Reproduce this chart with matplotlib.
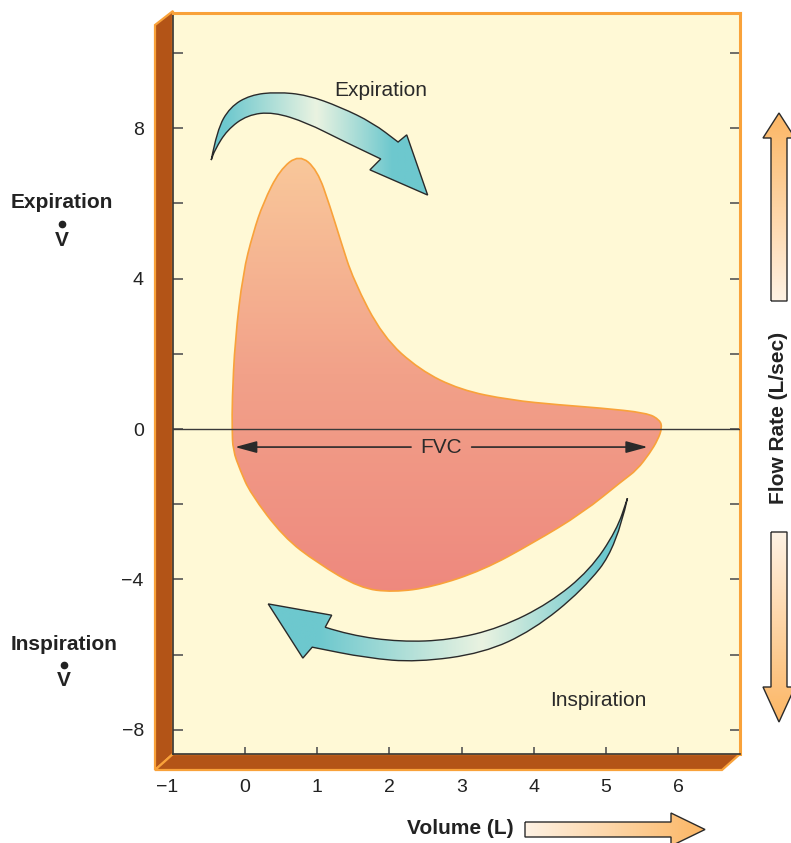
import numpy as np
import matplotlib
matplotlib.use("Agg")
import matplotlib.pyplot as plt
from matplotlib.path import Path
from matplotlib.patches import PathPatch, Polygon
from matplotlib.colors import LinearSegmentedColormap

plt.rcParams['font.family'] = ['Liberation Sans', 'DejaVu Sans']

# flow-volume loop (volume in L, flow in L/sec)
exp_volume = [-0.18, -0.18, -0.14, -0.03, 0.11, 0.25, 0.48, 0.75, 1.00, 1.18, 1.32,
              1.50, 1.91, 2.42, 2.98, 3.67, 4.36, 4.92, 5.57, 5.75, 5.78]
exp_flow = [0.0, 0.77, 2.37, 4.15, 5.21, 6.01, 6.89, 7.30, 6.89, 5.90, 5.03,
            3.96, 2.45, 1.57, 1.04, 0.77, 0.64, 0.56, 0.43, 0.24, 0.03]
insp_volume = [5.72, 5.61, 5.43, 5.24, 4.68, 3.99, 3.30, 2.60, 2.05, 1.59, 1.00,
               0.53, 0.07, -0.07, -0.17]
insp_flow = [-0.29, -0.64, -1.09, -1.36, -2.23, -3.03, -3.75, -4.20, -4.34, -4.23, -3.56,
             -2.87, -1.70, -1.09, -0.56]

fvc_start, fvc_end, fvc_level = -0.14, 5.58, -0.48

x_ticks = [0, 1, 2, 3, 4, 5, 6]
y_ticks = [-8, -6, -4, -2, 0, 2, 4, 6, 8, 10]
y_labels = ['−8', '', '−4', '', '0', '', '4', '', '8', '']

# curved direction arrows (data units): tail, outer edge, head, inner edge
exp_tail = (-0.47, 7.15)
exp_outer = [(-0.39, 7.95), (-0.21, 8.56), (0.07, 8.88), (0.44, 8.96), (0.86, 8.88),
             (1.32, 8.56), (1.77, 8.14), (2.12, 7.63)]
exp_head = [(2.24, 7.82), (2.53, 6.22), (1.73, 6.89), (1.88, 7.18)]
exp_inner = [(1.32, 7.69), (0.86, 8.14), (0.39, 8.43), (0.03, 8.35), (-0.25, 7.95), (-0.42, 7.42)]

insp_tail = (5.30, -1.84)
insp_outer = [(5.15, -3.14), (4.68, -4.28), (3.99, -5.35), (3.30, -5.96), (2.38, -6.20),
              (1.69, -6.09), (0.93, -5.80)]
insp_head = [(0.80, -6.09), (0.32, -4.65), (1.20, -4.95), (1.11, -5.27)]
insp_inner = [(1.45, -5.48), (2.15, -5.66), (2.84, -5.61), (3.53, -5.29), (4.22, -4.63),
              (4.78, -3.75), (5.15, -2.69)]

BROWN = '#B35417'
ORANGE = '#F9A23A'
PLANE = '#FFF9D6'
DARK = '#2a2a2a'
TEAL = '#6DC8CE'
PALE = '#EAF3E1'
loop_cmap = LinearSegmentedColormap.from_list('loop', ['#EE887E', '#F2A189', '#F9C99B'])
orange_cmap = LinearSegmentedColormap.from_list('org', ['#FEF2E4', '#FCB664'])
exp_cmap = LinearSegmentedColormap.from_list(
    'exp', [(0, TEAL), (0.07, TEAL), (0.48, PALE), (0.82, TEAL), (1, TEAL)])
insp_cmap = LinearSegmentedColormap.from_list(
    'insp', [(0, TEAL), (0.14, TEAL), (0.59, PALE), (0.92, TEAL), (1, TEAL)])


def smooth_open(pts, first_code):
    pts = np.asarray(pts, float)
    verts = [pts[0]]
    codes = [first_code]
    for i in range(1, len(pts) - 1):
        verts += [pts[i], (pts[i] + pts[i + 1]) / 2]
        codes += [Path.CURVE3, Path.CURVE3]
    verts.append(pts[-1])
    codes.append(Path.LINETO)
    return verts, codes


def smooth_closed(pts):
    pts = np.asarray(pts, float)
    n = len(pts)
    verts = [(pts[-1] + pts[0]) / 2]
    codes = [Path.MOVETO]
    for i in range(n):
        verts += [pts[i], (pts[i] + pts[(i + 1) % n]) / 2]
        codes += [Path.CURVE3, Path.CURVE3]
    verts.append(verts[0])
    codes.append(Path.CLOSEPOLY)
    return Path(verts, codes)


def curved_arrow(tail, outer, head, inner):
    v1, c1 = smooth_open([tail] + outer, Path.MOVETO)
    v2 = list(head[:3])
    c2 = [Path.LINETO] * 3
    v3, c3 = smooth_open([head[3]] + inner + [tail], Path.LINETO)
    verts = v1 + v2 + v3 + [tail]
    codes = c1 + c2 + c3 + [Path.CLOSEPOLY]
    return Path(verts, codes)


def gradient_patch(axis, path, cmap, extent, horizontal, ec, lw, z):
    patch = PathPatch(path, fc='none', ec=ec, lw=lw, zorder=z + 0.1, joinstyle='miter')
    axis.add_patch(patch)
    g = np.linspace(0, 1, 256)
    img = g[None, :] if horizontal else g[:, None]
    im = axis.imshow(img, cmap=cmap, extent=extent, origin='lower', aspect='auto',
                     interpolation='bilinear', zorder=z)
    im.set_clip_path(patch)


W, H = 791, 843
fig = plt.figure(figsize=(W / 100, H / 100), dpi=100)

# pixel overlay for the box walls, side arrows and outside labels
px = fig.add_axes([0, 0, 1, 1], zorder=0)
px.axis('off')

px.add_patch(Polygon([(173, 11), (155, 25), (155, 770), (173, 754)], closed=True,
                     fc=BROWN, ec=ORANGE, lw=1.6, joinstyle='miter'))
px.add_patch(Polygon([(173, 754), (155, 770), (722, 770), (740, 754)], closed=True,
                     fc=BROWN, ec=ORANGE, lw=1.6, joinstyle='miter'))

up_arrow = Path([(771, 301), (771, 138), (763, 138), (779, 113), (795, 138), (787, 138),
                 (787, 301), (771, 301)], closed=True)
down_arrow = Path([(771, 532), (771, 687), (763, 687), (779, 722), (795, 687), (787, 687),
                   (787, 532), (771, 532)], closed=True)
vol_arrow = Path([(525, 822), (671, 822), (671, 813), (705, 829.5), (671, 846), (671, 837),
                  (525, 837), (525, 822)], closed=True)
gradient_patch(px, up_arrow, orange_cmap, (760, 798, 301, 113), False, DARK, 1.0, 2)
gradient_patch(px, down_arrow, orange_cmap, (760, 798, 532, 722), False, DARK, 1.0, 2)
gradient_patch(px, vol_arrow, orange_cmap, (525, 705, 810, 850), True, DARK, 1.0, 2)

bold = dict(fontsize=15, fontweight='bold', color='#222222', ha='center', va='center')
px.text(62, 203, 'Expiration', **bold)
px.text(62, 240, 'V', **bold)
px.plot(62, 224, 'o', ms=4.5, color='#222222')
px.text(64, 645, 'Inspiration', **bold)
px.text(64, 681, 'V', **bold)
px.plot(64, 665, 'o', ms=4.5, color='#222222')
px.text(779, 418, 'Flow Rate (L/sec)', rotation=90, **bold)
px.text(460, 829, 'Volume (L)', **bold)
px.text(167, 787, '−1', fontsize=14, color='#222222', ha='center', va='center')
px.set_xlim(0, W)
px.set_ylim(H, 0)

# main plane
ax = fig.add_axes([173 / W, 1 - 754 / H, 567 / W, 741 / H], zorder=1)
ax.set_facecolor(PLANE)
ax.axhline(0, color='#3a3a3a', lw=1.0, zorder=3)

loop_pts = list(zip(exp_volume, exp_flow)) + list(zip(insp_volume, insp_flow))
gradient_patch(ax, smooth_closed(loop_pts), loop_cmap, (-0.4, 6.0, -4.5, 7.4), False,
               ORANGE, 1.2, 2)

gradient_patch(ax, curved_arrow(exp_tail, exp_outer, exp_head, exp_inner), exp_cmap,
               (-0.5, 2.6, 6.0, 9.1), True, DARK, 1.0, 4)
gradient_patch(ax, curved_arrow(insp_tail, insp_outer, insp_head, insp_inner), insp_cmap,
               (0.3, 5.35, -6.3, -1.8), True, DARK, 1.0, 4)

fvc_mid = (fvc_start + fvc_end) / 2
aprops = dict(arrowstyle='-|>,head_length=1.1,head_width=0.3', color=DARK, lw=1.2,
              mutation_scale=12, shrinkA=0, shrinkB=0)
ax.annotate('', xy=(fvc_start, fvc_level), xytext=(fvc_mid - 0.42, fvc_level),
            arrowprops=aprops, zorder=5)
ax.annotate('', xy=(fvc_end, fvc_level), xytext=(fvc_mid + 0.42, fvc_level),
            arrowprops=aprops, zorder=5)
ax.text(fvc_mid, fvc_level, 'FVC', fontsize=15, color=DARK, ha='center', va='center', zorder=5)

ax.text(1.88, 8.99, 'Expiration', fontsize=15, color=DARK, ha='center', va='center', zorder=5)
ax.text(4.89, -7.21, 'Inspiration', fontsize=15, color=DARK, ha='center', va='center', zorder=5)

ax.set_xticks(x_ticks)
ax.set_xticklabels([str(v) for v in x_ticks])
ax.set_yticks(y_ticks)
ax.set_yticklabels(y_labels)
ax.tick_params(axis='x', direction='in', length=5, width=1.2, color='#555555',
               pad=18, labelsize=14, labelcolor='#222222')
ax.tick_params(axis='y', direction='in', length=7, width=1.2, color='#555555',
               left=True, right=True, pad=21, labelsize=14, labelcolor='#222222')

for side in ['left', 'bottom']:
    ax.spines[side].set_color('#333333')
    ax.spines[side].set_linewidth(1.2)
for side in ['top', 'right']:
    ax.spines[side].set_color(ORANGE)
    ax.spines[side].set_linewidth(2.2)

ax.set_xlim(-1.0, 6.86)
ax.set_ylim(-8.64, 11.06)

fig.savefig('out.png', dpi=100, facecolor='white')
